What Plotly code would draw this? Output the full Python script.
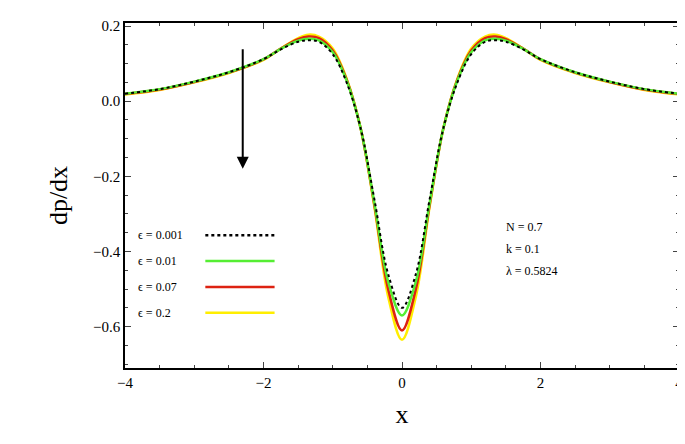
import plotly.graph_objects as go

x = [-4, -3.5, -3, -2.5, -2, -1.75, -1.5, -1.35, -1.2, -1, -0.8, -0.6, -0.4, -0.2, 0,
     0.2, 0.4, 0.6, 0.8, 1, 1.2, 1.35, 1.5, 1.75, 2, 2.5, 3, 3.5, 4]

eps001 = [0.02, 0.032, 0.052, 0.077, 0.112, 0.138, 0.158, 0.162, 0.158, 0.125, 0.05, -0.07, -0.26, -0.46, -0.55,
          -0.46, -0.26, -0.07, 0.05, 0.125, 0.158, 0.162, 0.158, 0.138, 0.112, 0.077, 0.052, 0.032, 0.02]
eps01 = [0.02, 0.032, 0.052, 0.077, 0.112, 0.139, 0.161, 0.166, 0.162, 0.13, 0.055, -0.07, -0.27, -0.48, -0.57,
         -0.48, -0.27, -0.07, 0.055, 0.13, 0.162, 0.166, 0.161, 0.139, 0.112, 0.077, 0.052, 0.032, 0.02]
eps07 = [0.019, 0.031, 0.051, 0.076, 0.111, 0.14, 0.165, 0.172, 0.168, 0.135, 0.058, -0.07, -0.275, -0.5, -0.61,
         -0.5, -0.275, -0.07, 0.058, 0.135, 0.168, 0.172, 0.165, 0.14, 0.111, 0.076, 0.051, 0.031, 0.019]
eps2 = [0.018, 0.03, 0.05, 0.075, 0.11, 0.14, 0.168, 0.177, 0.172, 0.14, 0.06, -0.07, -0.28, -0.52, -0.635,
        -0.52, -0.28, -0.07, 0.06, 0.14, 0.172, 0.177, 0.168, 0.14, 0.11, 0.075, 0.05, 0.03, 0.018]

labels = ["ϵ = 0.001", "ϵ = 0.01", "ϵ = 0.07", "ϵ = 0.2"]
colors = ["black", "#55ee33", "#dd2211", "#ffee00"]
dashes = ["dot", "solid", "solid", "solid"]
series = [eps001, eps01, eps07, eps2]

font = "Liberation Serif"
fig = go.Figure()
# yellow first so the darker curves stay on top
for i in [3, 2, 1, 0]:
    fig.add_trace(go.Scatter(x=x, y=series[i], mode="lines", line_shape="spline",
                             line=dict(color=colors[i], width=2.5 if i else 2, dash=dashes[i]),
                             showlegend=False))

# hand-placed legend
for i, lab in enumerate(labels):
    yp = 0.385 - i * 0.075
    fig.add_annotation(x=0.02, y=yp, xref="paper", yref="paper", text=lab, showarrow=False,
                       xanchor="left", yanchor="middle", font=dict(family=font, size=12, color="black"))
    fig.add_shape(type="line", xref="paper", yref="paper", x0=0.145, x1=0.27, y0=yp, y1=yp,
                  line=dict(color=colors[i], width=2.5, dash=dashes[i]))

for i, t in enumerate(["N = 0.7", "k = 0.1", "λ = 0.5824"]):
    fig.add_annotation(x=0.685, y=0.41 - i * 0.065, xref="paper", yref="paper", text=t,
                       showarrow=False, xanchor="left", yanchor="middle",
                       font=dict(family=font, size=12, color="black"))

fig.add_annotation(x=-2.3, y=-0.18, ax=-2.3, ay=0.142, xref="x", yref="y", axref="x", ayref="y",
                   showarrow=True, arrowhead=2, arrowsize=1.2, arrowwidth=2, arrowcolor="black", text="")

axis = dict(showline=True, linecolor="black", linewidth=1.5, mirror="allticks", ticks="inside",
            ticklen=6, showgrid=False, zeroline=False, tickfont=dict(family=font, size=15, color="black"))
fig.update_xaxes(range=[-4, 4], tickvals=[-4, -2, 0, 2, 4],
                 title=dict(text="x", font=dict(family=font, size=26, color="black")),
                 minor=dict(ticks="inside", ticklen=3, dtick=0.5), **axis)
fig.update_yaxes(range=[-0.71, 0.208], tickvals=[-0.6, -0.4, -0.2, 0.0, 0.2], tickformat=".1f",
                 title=dict(text="dp/dx", font=dict(family=font, size=26, color="black"), standoff=18),
                 minor=dict(ticks="inside", ticklen=3, dtick=0.05), **axis)
fig.update_layout(width=685, height=444, margin=dict(l=117, r=11, t=10, b=84),
                  plot_bgcolor="white", paper_bgcolor="white")
fig.write_html("out.html")
